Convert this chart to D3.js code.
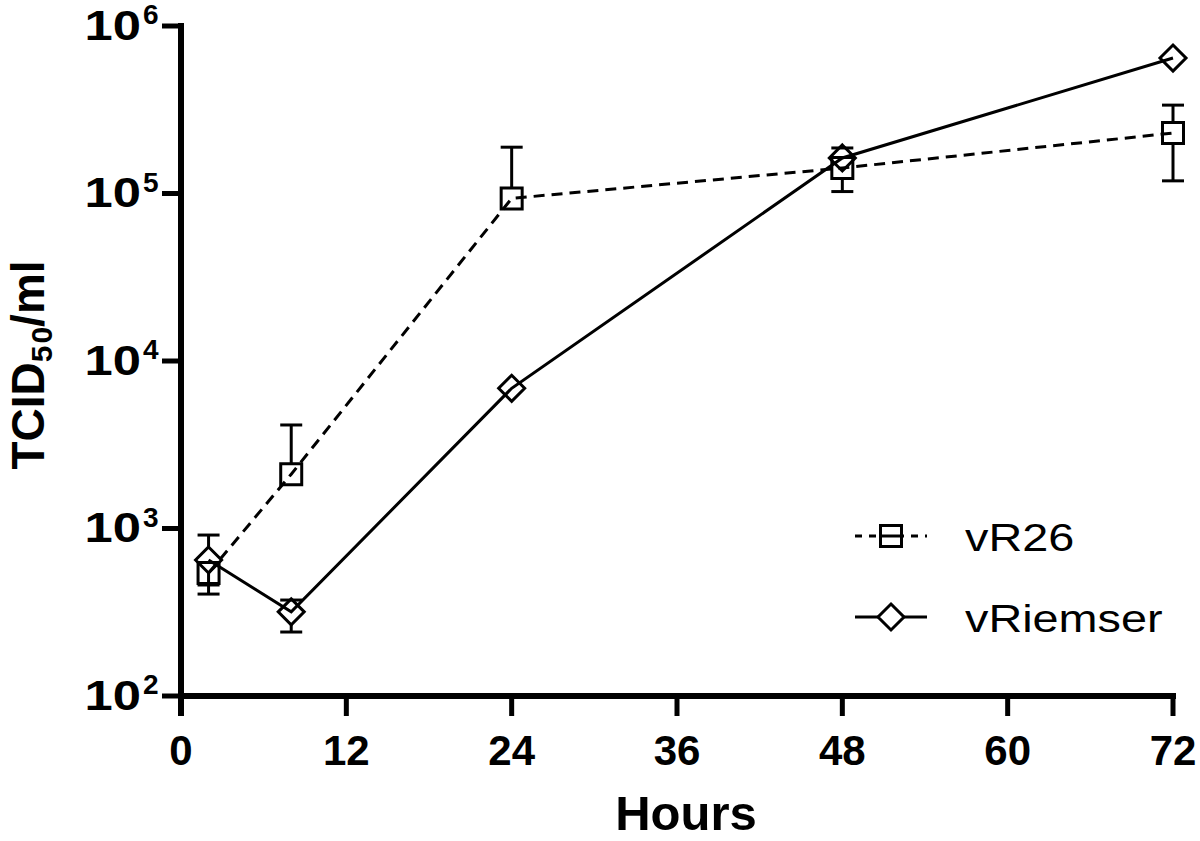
<!DOCTYPE html>
<html>
<head>
<meta charset="utf-8">
<script src="https://cdn.jsdelivr.net/npm/d3@7"></script>
<style>
  html, body { margin: 0; padding: 0; background: #fff; }
  svg { display: block; }
  text { font-family: "Liberation Sans", Arial, Helvetica, sans-serif; fill: #000; }
</style>
</head>
<body>
<svg id="chart" width="1200" height="841"></svg>
<script>
// ---- Data ----
const hours = [2, 8, 24, 48, 72];
const vR26 = [542, 2110, 93500, 142000, 229600];
const vR26Lo = [406, null, null, 102700, 119000];
const vR26Hi = [null, 4150, 189000, null, 337000];
const vRiemser = [649, 318, 6870, 163000, 644000];
const vRiemserLo = [460, 241, null, null, null];
const vRiemserHi = [914, 374, null, 187000, null];
const xTicks = [0, 12, 24, 36, 48, 60, 72];
const yTicks = [1e2, 1e3, 1e4, 1e5, 1e6];
const yTickExp = ["2", "3", "4", "5", "6"];
const seriesNames = ["vR26", "vRiemser"];

// ---- Setup ----
const svg = d3.select("#chart");
const x = d3.scaleLinear().domain([0, 72]).range([181, 1173]);
const y = d3.scaleLog().domain([1e2, 1e6]).range([696, 26]);

const series = [
  { name: seriesNames[0], vals: vR26, lo: vR26Lo, hi: vR26Hi, shape: "square", dash: "11,7", half: 10.5 },
  { name: seriesNames[1], vals: vRiemser, lo: vRiemserLo, hi: vRiemserHi, shape: "diamond", dash: null, half: 13 }
];

function markerPath(shape, cx, cy) {
  if (shape === "square") {
    const h = 10.5;
    return `M${cx - h},${cy - h}H${cx + h}V${cy + h}H${cx - h}Z`;
  } else {
    const h = 13;
    return `M${cx},${cy - h}L${cx + h},${cy}L${cx},${cy + h}L${cx - h},${cy}Z`;
  }
}

// ---- Axes ----
const axisG = svg.append("g");
axisG.append("line").attr("x1", 181).attr("x2", 181)
  .attr("y1", y(1e6) - 3).attr("y2", 716)
  .attr("stroke", "#000").attr("stroke-width", 6);
axisG.append("line").attr("x1", 178).attr("x2", x(72) + 3)
  .attr("y1", 696).attr("y2", 696)
  .attr("stroke", "#000").attr("stroke-width", 6);

// y ticks
yTicks.forEach((t, i) => {
  const yy = y(t);
  axisG.append("line").attr("x1", 162).attr("x2", 181)
    .attr("y1", yy).attr("y2", yy)
    .attr("stroke", "#000").attr("stroke-width", 5);
  axisG.append("g").attr("transform", `translate(141,${yy + 13.5}) scale(1.18,1)`)
    .append("text").attr("x", 0).attr("y", 0)
    .attr("text-anchor", "end")
    .attr("font-size", 43).attr("font-weight", "bold")
    .text("10");
  axisG.append("text").attr("x", 143).attr("y", yy - 2)
    .attr("text-anchor", "start")
    .attr("font-size", 28).attr("font-weight", "bold")
    .text(yTickExp[i]);
});

// x ticks
xTicks.forEach(t => {
  const xx = x(t);
  axisG.append("line").attr("x1", xx).attr("x2", xx)
    .attr("y1", 696).attr("y2", 716)
    .attr("stroke", "#000").attr("stroke-width", 5);
  axisG.append("text").attr("x", xx).attr("y", 765)
    .attr("text-anchor", "middle")
    .attr("font-size", 42).attr("font-weight", "bold")
    .text(t);
});

// axis titles
svg.append("text").attr("x", 686).attr("y", 830)
  .attr("text-anchor", "middle")
  .attr("font-size", 49).attr("font-weight", "bold")
  .text("Hours");

const yl = svg.append("text")
  .attr("transform", "translate(44,365) rotate(-90)")
  .attr("text-anchor", "middle")
  .attr("font-size", 46).attr("font-weight", "bold");
yl.append("tspan").text("TCID");
yl.append("tspan").attr("font-size", 30).attr("dy", 8).text("5");
yl.append("tspan").attr("font-size", 30).attr("dx", 2).text("0");
yl.append("tspan").attr("dy", -8).text("/ml");

// ---- Data marks ----
const plot = svg.append("g");
series.forEach(s => {
  s.vals.forEach((v, i) => {
    const cx = x(hours[i]), cy = y(v);
    if (s.hi[i] != null) {
      const yh = y(s.hi[i]);
      plot.append("line").attr("x1", cx).attr("x2", cx).attr("y1", cy - s.half).attr("y2", yh)
        .attr("stroke", "#000").attr("stroke-width", 3);
      plot.append("line").attr("x1", cx - 11).attr("x2", cx + 11).attr("y1", yh).attr("y2", yh)
        .attr("stroke", "#000").attr("stroke-width", 3);
    }
    if (s.lo[i] != null) {
      const yl2 = y(s.lo[i]);
      plot.append("line").attr("x1", cx).attr("x2", cx).attr("y1", cy + s.half).attr("y2", yl2)
        .attr("stroke", "#000").attr("stroke-width", 3);
      plot.append("line").attr("x1", cx - 11).attr("x2", cx + 11).attr("y1", yl2).attr("y2", yl2)
        .attr("stroke", "#000").attr("stroke-width", 3);
    }
  });
  const line = d3.line().x((d, i) => x(hours[i])).y(d => y(d));
  plot.append("path").attr("d", line(s.vals))
    .attr("fill", "none").attr("stroke", "#000").attr("stroke-width", 3)
    .attr("stroke-dasharray", s.dash);
  s.vals.forEach((v, i) => {
    plot.append("path").attr("d", markerPath(s.shape, x(hours[i]), y(v)))
      .attr("fill", "none").attr("stroke", "#000").attr("stroke-width", 3);
  });
});

// ---- Legend ----
const legend = svg.append("g");
const legY = [536, 617];
series.forEach((s, i) => {
  const ly = legY[i];
  legend.append("line").attr("x1", 855).attr("x2", 927).attr("y1", ly).attr("y2", ly)
    .attr("stroke", "#000").attr("stroke-width", 3)
    .attr("stroke-dasharray", s.dash ? "7,7" : null);
  legend.append("path").attr("d", markerPath(s.shape, 891, ly))
    .attr("fill", "#fff").attr("stroke", "#000").attr("stroke-width", 3);
  if (s.shape === "square") {
    legend.append("line").attr("x1", 881).attr("x2", 901).attr("y1", ly).attr("y2", ly)
      .attr("stroke", "#000").attr("stroke-width", 3);
  }
  legend.append("g").attr("transform", `translate(965,${ly + 15}) scale(1.2,1)`)
    .append("text").attr("x", 0).attr("y", 0)
    .attr("font-size", 39)
    .text(s.name);
});
</script>
</body>
</html>
